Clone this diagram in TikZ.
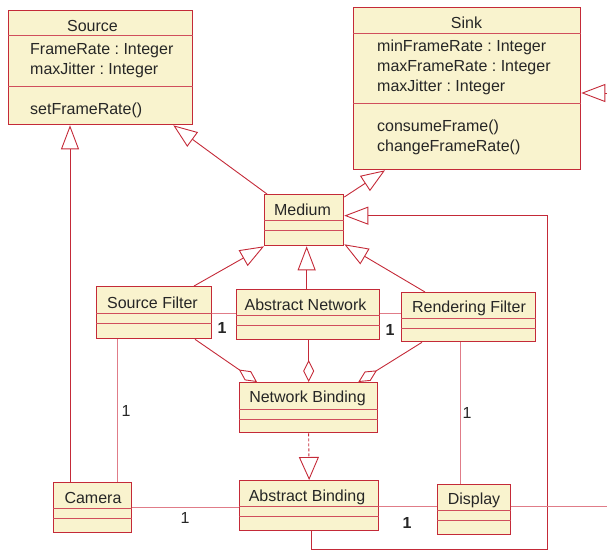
\documentclass[tikz,border=0pt]{standalone}
\usepackage{fontspec}
\setmainfont{Liberation Sans}
\usepackage{xcolor}
\usepackage{tikz}
\usetikzlibrary{arrows.meta,positioning}
\definecolor{umlred}{RGB}{196,42,56}
\definecolor{umlpink}{RGB}{224,124,136}
\definecolor{umlsep}{RGB}{208,78,92}
\definecolor{umlfill}{RGB}{249,243,206}
\definecolor{umltext}{RGB}{38,38,38}
\frenchspacing

\begin{document}
\begin{tikzpicture}[x=1pt,y=-1pt]
  \tikzset{font=\fontsize{16}{20}\selectfont,text=umltext}

  \tikzset{cls/.style = {draw=umlred,fill=umlfill,line width=1.3pt,anchor=north west,inner sep=0pt}}

  \tikzset{title/.style = {anchor=base,inner sep=0pt}}

  \tikzset{attr/.style = {anchor=base west,inner sep=0pt}}

  \tikzset{part/.style = {draw=umlsep,line width=1pt}}

  \tikzset{mult/.style = {inner sep=0pt}}

  \tikzset{bmult/.style = {mult,font=\fontsize{16}{20}\selectfont\bfseries}}

  \useasboundingbox (0,0) rectangle (607,550);

  % classes
  \node[cls,minimum width=184,minimum height=114] (source) at (8,10) {};
  \node[cls,minimum width=227,minimum height=162] (sink) at (353,7) {};
  \node[cls,minimum width=79,minimum height=51] (medium) at (264,194) {};
  \node[cls,minimum width=115,minimum height=52] (sfilter) at (96,286) {};
  \node[cls,minimum width=143,minimum height=50] (anet) at (236,289) {};
  \node[cls,minimum width=134,minimum height=49] (rfilter) at (401,292) {};
  \node[cls,minimum width=138,minimum height=50] (nbind) at (239,382) {};
  \node[cls,minimum width=139,minimum height=50] (abind) at (239,480) {};
  \node[cls,minimum width=78,minimum height=50] (camera) at (53,482) {};
  \node[cls,minimum width=73,minimum height=50] (display) at (437,484) {};

  % compartments
  \foreach \n/\a/\b in {source/25/76,sink/26/96,medium/26/36,sfilter/27/37,anet/26/36,
                        rfilter/26/36,nbind/27/37,abind/26/36,camera/26/36,display/26/36}{
    \draw[part] ([yshift=-\a pt]\n.north west) -- ([yshift=-\a pt]\n.north east);
    \draw[part] ([yshift=-\b pt]\n.north west) -- ([yshift=-\b pt]\n.north east);
  }

  % names
  \node[title] (source-t) at (92.5,31) {Source};
  \node[title] (sink-t) at (466.5,28.5) {Sink};
  \node[title] (medium-t) at (302.5,215.5) {Medium};
  \node[title] (sfilter-t) at (152.5,308) {Source Filter};
  \node[title] (anet-t) at (305.5,310) {Abstract Network};
  \node[title] (rfilter-t) at (469,312) {Rendering Filter};
  \node[title] (nbind-t) at (307.5,402) {Network Binding};
  \node[title] (abind-t) at (307,501) {Abstract Binding};
  \node[title] (camera-t) at (93,503.5) {Camera};
  \node[title] (display-t) at (474,504) {Display};

  % attributes and operations
  \foreach \t [count=\i from 0] in {FrameRate : Integer,maxJitter : Integer}
    \node[attr] (source-a\i) at (30,54+20*\i) {\t};
  \node[attr] (source-o0) at (30,114.5) {setFrameRate()};
  \foreach \t [count=\i from 0] in {minFrameRate : Integer,maxFrameRate : Integer,maxJitter : Integer}
    \node[attr] (sink-a\i) at (377,51+20*\i) {\t};
  \foreach \t [count=\i from 0] in {consumeFrame(),changeFrameRate()}
    \node[attr] (sink-o\i) at (377,131.5+20*\i) {\t};

  % free ends
  \coordinate (sinkin) at (607,93);
  \coordinate (dispout) at (607,506);
  \coordinate (ret) at (547,549);

  %edges
  \begin{scope}[line width=0.9pt,
      inherit/.style={draw=umlred,-{Triangle[open,length=24pt,width=18pt]}},
      assoc/.style={draw=umlpink},
      aggr/.style={draw=umlred,{Diamond[open,length=22pt,width=11pt]}-},
      realize/.style={draw=umlred,dash pattern=on 3pt off 2pt,-{Triangle[open,length=23pt,width=20pt]}}]
    \draw[inherit] ([xshift=17pt]camera.north west) -- ([xshift=17pt]camera.north west |- source.south);
    \draw[inherit] ([xshift=3pt]medium.north west) -- ([xshift=-20pt]source.south east);
    \draw[inherit] ([yshift=-3pt]medium.north east) -- ([xshift=32pt]sink.south west);
    \draw[inherit] ([xshift=98pt]sfilter.north west) -- (medium.south west);
    \draw[inherit] ([xshift=-1.5pt]anet.north) -- ([xshift=-1.5pt]anet.north |- medium.south);
    \draw[inherit] ([xshift=24pt]rfilter.north west) -- ([yshift=2pt]medium.south east);
    \draw[inherit] ([xshift=72pt]abind.south west) |- (ret) |- ([yshift=4.5pt]medium.east);
    \draw[inherit] (sinkin) -- (sinkin -| sink.east);

    \draw[assoc] ([xshift=21pt]sfilter.south west) -- ([xshift=21pt]sfilter.south west |- camera.north);
    \draw[assoc] ([yshift=-27pt]sfilter.north east) -- ([yshift=-27pt]sfilter.north east -| anet.west);
    \draw[assoc] ([yshift=-24pt]anet.north east) -- ([yshift=-24pt]anet.north east -| rfilter.west);
    \draw[assoc] ([xshift=59pt]rfilter.south west) -- ([xshift=59pt]rfilter.south west |- display.north);
    \draw[assoc] (camera.east) -- (camera.east -| abind.west);
    \draw[assoc] ([yshift=-26pt]abind.north east) -- ([yshift=-26pt]abind.north east -| display.west);
    \draw[assoc] ([yshift=-22pt]display.north east) -- (dispout);

    \draw[aggr] ([xshift=18pt]nbind.north west) -- ([xshift=99pt]sfilter.south west);
    \draw[aggr] (nbind.north) -- (nbind.north |- anet.south);
    \draw[aggr] ([xshift=-20pt]nbind.north east) -- ([xshift=21pt]rfilter.south west);

    \draw[realize] (nbind.south) -- (abind.north);
  \end{scope}

  % multiplicities
  \node[mult] (m-cam-sf) at (126,411) {1};
  \node[mult] (m-cam-ab) at (185,518) {1};
  \node[mult] (m-rf-disp) at (467,413) {1};
  \node[bmult] (m-sf-an) at (222,328) {1};
  \node[bmult] (m-an-rf) at (390,330) {1};
  \node[bmult] (m-ab-disp) at (407,523) {1};
\end{tikzpicture}
\end{document}
